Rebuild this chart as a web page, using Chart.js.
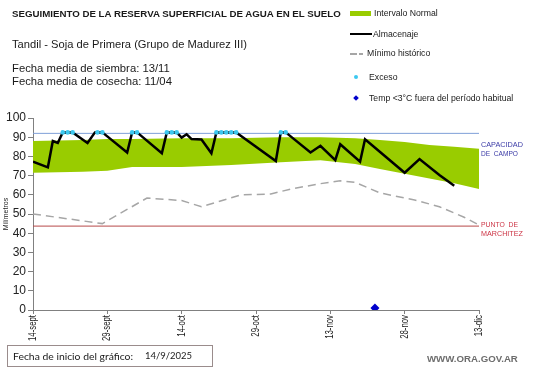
<!DOCTYPE html>
<html><head><meta charset="utf-8">
<script src="https://cdn.jsdelivr.net/npm/chart.js@4"></script>
<style>
body{margin:0;background:#fff}
#wrap{position:relative;width:541px;height:368px;overflow:hidden;background:#fff}
#c{position:absolute;left:0;top:0}
.t{position:absolute;white-space:nowrap;line-height:1;transform:translateY(-50%);font-family:"Liberation Sans",Arial,sans-serif;color:#1a1a1a}
.lg{font-size:8.7px}
.sw{position:absolute}
</style></head>
<body>
<div id="wrap">
<canvas id="c" width="541" height="368"></canvas>
<div class="t" data-x="12" data-y="14" data-w="329" style="font-weight:bold">SEGUIMIENTO DE LA RESERVA SUPERFICIAL DE AGUA EN EL SUELO</div>
<div class="t" data-x="12" data-y="45" data-w="235">Tandil - Soja de Primera (Grupo de Madurez III)</div>
<div class="t" data-x="12" data-y="69" data-w="158">Fecha media de siembra: 13/11</div>
<div class="t" data-x="12" data-y="82" data-w="160">Fecha media de cosecha: 11/04</div>

<div class="sw" style="left:350px;top:11px;width:21px;height:5px;background:#99cc00"></div>
<div class="t lg" data-x="374" data-y="13">Intervalo Normal</div>
<div class="sw" style="left:350px;top:33px;width:22px;height:2px;background:#000"></div>
<div class="t lg" data-x="373" data-y="34">Almacenaje</div>
<div class="sw" style="left:350px;top:53px;width:7px;height:1.5px;background:#a6a6a6"></div>
<div class="sw" style="left:359px;top:53px;width:4px;height:1.5px;background:#a6a6a6"></div>
<div class="t lg" data-x="367" data-y="53">Mínimo histórico</div>
<div class="sw" style="left:354px;top:75px;width:4px;height:4px;border-radius:50%;background:#3cc8f0"></div>
<div class="t lg" data-x="369" data-y="77">Exceso</div>
<div class="sw" style="left:354px;top:96px;width:4px;height:4px;background:#0000cc;transform:rotate(45deg)"></div>
<div class="t lg" data-x="369" data-y="98">Temp &lt;3°C fuera del período habitual</div>

<div class="t" data-x="481" data-y="145" data-w="42" style="color:#3a3aa6">CAPACIDAD</div>
<div class="t" data-x="481" data-y="154" data-w="37" style="color:#3a3aa6">DE&nbsp;&nbsp;CAMPO</div>
<div class="t" data-x="481" data-y="225" data-w="37" style="color:#cc3344">PUNTO&nbsp;&nbsp;DE</div>
<div class="t" data-x="481" data-y="233.5" data-w="42" style="color:#cc3344">MARCHITEZ</div>

<div class="sw" style="left:7px;top:345px;width:204px;height:20px;border:1px solid #9a8c8c"></div>
<div class="t" data-x="13" data-y="356" data-w="120" style="font-family:Lato,'Open Sans',sans-serif">Fecha de inicio del gráfico:</div>
<div class="t" data-x="145" data-y="356" data-w="47" style="font-family:Lato,'Open Sans',sans-serif">14/9/2025</div>
<div class="t" data-x="427" data-y="359" data-w="91" style="font-weight:bold;color:#6d6d6d">WWW.ORA.GOV.AR</div>
</div>
<script>
// ---- data (days since 14/9/2025) ----
const tickLabels = ['14-sept','29-sept','14-oct','29-oct','13-nov','28-nov','13-dic'];
const bandDays   = [0, 10, 15, 20, 30, 40, 50, 58, 65, 70, 75, 80, 85, 90];
const bandTop    = [88, 88.5, 89, 89, 89.5, 89.5, 90, 90, 89.5, 88.5, 87.5, 86, 85, 84];
const bandBottom = [71.5, 72, 72.5, 74.5, 74.5, 75.5, 77, 78, 76, 73.5, 71, 68.5, 66, 63];
const minDays    = [0, 14, 23, 30, 34, 42, 48, 52, 58, 62, 65, 70, 77, 82, 87, 90];
const minVals    = [50, 45, 58.3, 57, 53.8, 60, 60.4, 63, 65.8, 67.3, 66.5, 61, 57.3, 53.8, 48.3, 44.3];
const stoDays    = [0, 3, 4, 5, 6, 8, 11, 12.5, 14, 19, 20, 21, 26, 27, 29, 30, 31, 32, 34, 36, 37, 41, 49, 50, 51, 56, 58, 61, 62, 66, 67, 75, 78, 82, 85];
const stoVals    = [77.3, 74.3, 88, 87, 92.5, 92.5, 87, 92.5, 92.5, 82, 92.5, 92.5, 81.6, 92.5, 92.5, 89.8, 91.5, 89, 88.8, 81.6, 92.5, 92.5, 77.6, 92.5, 92.5, 82, 85.5, 78, 86.3, 77.2, 88.9, 71.5, 78.6, 70.3, 64.7];
const excessDays = [6, 7, 8, 13, 14, 20, 21, 27, 28, 29, 37, 38, 39, 40, 41, 50, 51];
const excessVal  = 92.5;
const coldDays   = [69];
const coldVals   = [1];
const capacidad  = 92;
const marchitez  = 43.7;
const xMin = 0, xMax = 90;

// ---- place / fit text ----
document.querySelectorAll('.t').forEach(el=>{
  el.style.left = el.dataset.x+'px';
  el.style.top = el.dataset.y+'px';
  if (el.dataset.w) {
    el.style.fontSize = '10px';
    const w = el.getBoundingClientRect().width;
    el.style.fontSize = (10*(+el.dataset.w)/w).toFixed(2)+'px';
  }
});

const FAM = '"Liberation Sans", Arial, sans-serif';
const pts = (xs, ys) => xs.map((x,i)=>({x:x, y:ys[i]}));

// condensed, rotated x tick labels drawn at the x scale's own tick positions
const condensedXLabels = {
  id:'condensedXLabels',
  afterDraw(chart){
    const sc = chart.scales.x, ctx = chart.ctx;
    ctx.save();
    ctx.font = '11px ' + FAM;
    const sx = 26 / ctx.measureText('14-sept').width;
    ctx.fillStyle = '#1a1a1a';
    ctx.textAlign = 'right';
    ctx.textBaseline = 'middle';
    sc.ticks.forEach((t, i) => {
      const px = sc.getPixelForTick(i);
      ctx.save();
      ctx.translate(px, sc.top + 5);
      ctx.rotate(-Math.PI/2);
      ctx.scale(sx, 1);
      ctx.fillText(tickLabels[Math.round(t.value/15)], 0, 0);
      ctx.restore();
    });
    ctx.restore();
  }
};

new Chart(document.getElementById('c').getContext('2d'), {
  type: 'line',
  data: { datasets: [
    {data: pts(bandDays, bandTop), borderWidth:0, pointRadius:0, fill:'+1', backgroundColor:'#99cc00', borderColor:'#99cc00', order:7},
    {data: pts(bandDays, bandBottom), borderWidth:0, pointRadius:0, fill:false, borderColor:'#99cc00', order:8},
    {data: pts(minDays, minVals), borderColor:'#a6a6a6', borderWidth:1.5, borderDash:[8,5], pointRadius:0, fill:false, order:6},
    {data: [{x:xMin,y:capacidad},{x:xMax,y:capacidad}], borderColor:'#7f9fd8', borderWidth:1, pointRadius:0, fill:false, order:5},
    {data: [{x:xMin,y:marchitez},{x:xMax,y:marchitez}], borderColor:'#b84848', borderWidth:1, pointRadius:0, fill:false, order:4},
    {data: pts(stoDays, stoVals), borderColor:'#000', borderWidth:2.5, pointRadius:0, fill:false, tension:0, order:3},
    {data: excessDays.map(d=>({x:d,y:excessVal})), showLine:false, pointRadius:2.3, pointBackgroundColor:'#3cc8f0', pointBorderWidth:0, order:1},
    {data: pts(coldDays, coldVals), showLine:false, pointStyle:'rectRot', pointRadius:4.5, pointBackgroundColor:'#0000cc', pointBorderWidth:0, order:0}
  ]},
  options: {
    responsive:false, animation:false, devicePixelRatio:1,
    layout:{padding:{left:0, top:118, right:62, bottom:0}},
    plugins:{legend:{display:false}, tooltip:{enabled:false}},
    scales:{
      x:{type:'linear', min:xMin, max:xMax,
        afterFit(s){ s.height = 58; },
        ticks:{stepSize:15, autoSkip:false, minRotation:90, maxRotation:90, padding:3,
          callback:(v)=>tickLabels[Math.round(v/15)], font:{size:8, family:FAM}, color:'rgba(0,0,0,0)'},
        grid:{drawOnChartArea:false, drawTicks:true, tickLength:4, color:'#808080'},
        border:{color:'#808080', width:1}},
      y:{min:0, max:100,
        afterFit(s){ s.width = 33; },
        ticks:{stepSize:10, padding:2, font:{size:12, family:FAM}, color:'#222'},
        grid:{drawOnChartArea:false, drawTicks:true, tickLength:5, color:'#808080'},
        border:{color:'#808080', width:1},
        title:{display:true, text:'Milímetros', font:{size:7, family:FAM}, color:'#222', padding:{top:2,bottom:0}}}
    }
  },
  plugins:[condensedXLabels]
});
</script>
</body></html>
